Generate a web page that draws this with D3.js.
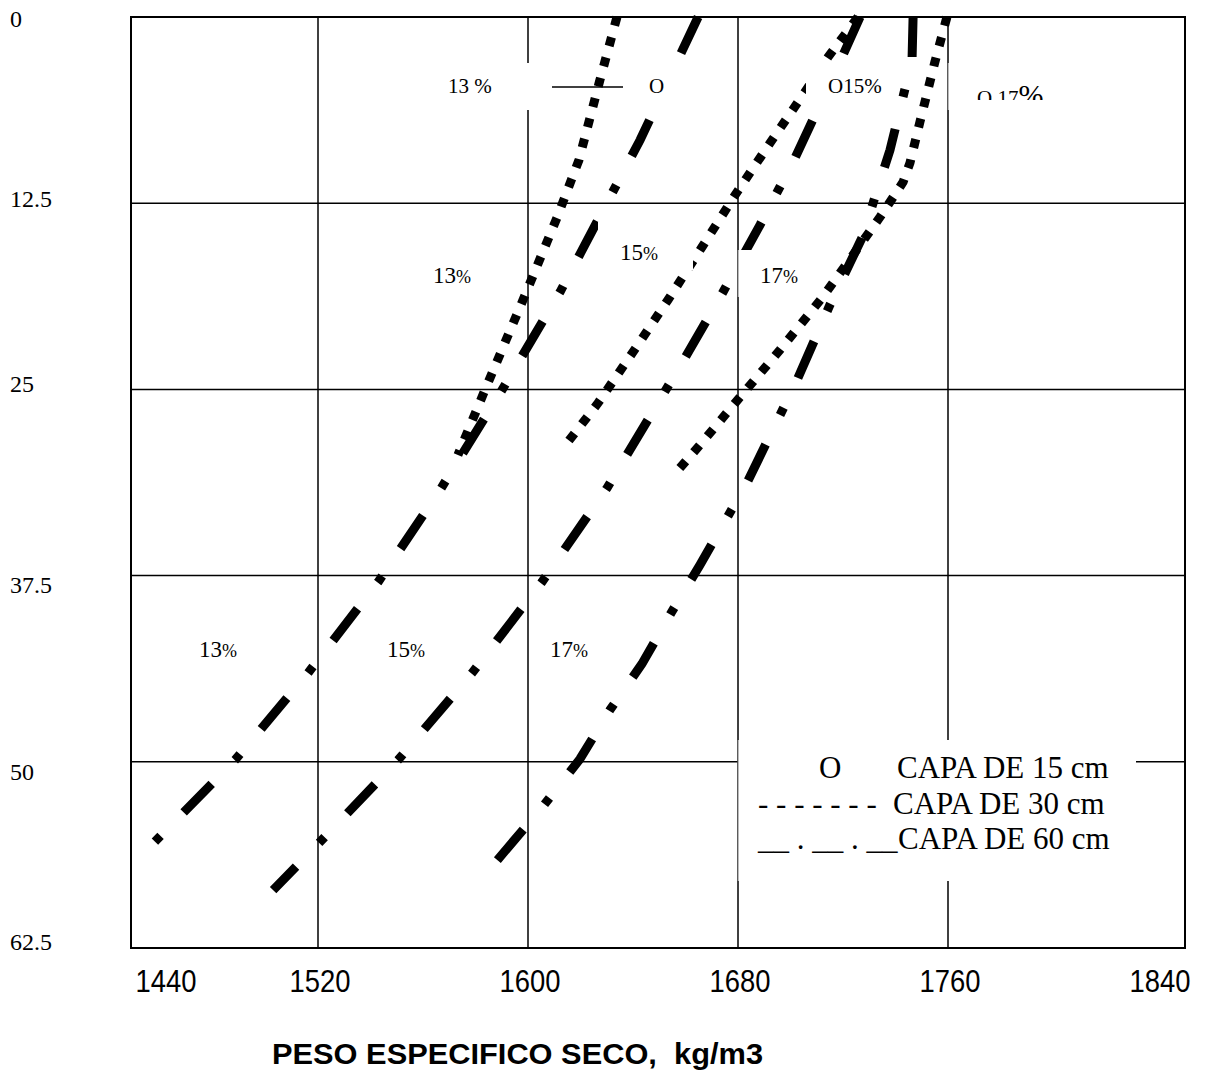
<!DOCTYPE html>
<html>
<head>
<meta charset="utf-8">
<script src="https://cdn.jsdelivr.net/npm/d3@7"></script>
<style>
  body { margin: 0; background: #fff; }
  svg { display: block; }
  .serif { font-family: "Liberation Serif", "Times New Roman", serif; fill: #000; }
  .sans { font-family: "Liberation Sans", Arial, sans-serif; fill: #000; }
</style>
</head>
<body>
<script>
// axis values
const xTicks = [1440, 1520, 1600, 1680, 1760, 1840];
const yTicks = [0, 12.5, 25, 37.5, 50, 62.5];
const moistures = ["13%", "15%", "17%"];

// CAPA DE 30 cm (dotted) -- [peso especifico, y]
const capa30_13 = [[1633.9, 0], [1627.4, 4.23], [1619.4, 9.6], [1611.0, 13.49], [1598.9, 18.66], [1583.6, 25.04], [1573.3, 29.4]];
const capa30_15 = [[1725.7, 0], [1714.3, 2.69], [1705.5, 5.03], [1692.2, 8.46], [1678.9, 11.95], [1666.3, 15.44], [1653.3, 19.0], [1640.0, 22.49], [1626.7, 25.91], [1615.2, 28.53]];
const capa30_17 = [[1759.6, 0], [1755.0, 3.02], [1749.3, 7.05], [1745.5, 9.8], [1742.9, 11.08], [1734.1, 13.43], [1725.7, 15.51], [1712.0, 18.86], [1696.0, 22.35], [1680.8, 25.51], [1665.5, 28.73], [1655.2, 30.81]];

// CAPA DE 60 cm (dash-dot)
const capa60_13 = [[1664.8, 0], [1642.7, 8.26], [1612.2, 18.46], [1590.1, 25.04], [1566.5, 31.75], [1542.9, 37.93], [1516.2, 44.04], [1488.4, 49.88], [1456.8, 55.55]];
const capa60_15 = [[1726.5, 0], [1720.0, 2.55], [1701.7, 9.47], [1688.4, 13.96], [1674.3, 18.46], [1659.8, 22.89], [1630.1, 31.62], [1605.3, 37.93], [1578.7, 44.04], [1550.5, 49.88], [1520.4, 55.45], [1502.9, 58.61]];
const capa60_17 = [[1746.7, 0], [1746.3, 2.89], [1737.9, 8.93], [1727.2, 14.84], [1715.0, 19.33], [1702.5, 24.37], [1683.4, 31.28], [1665.5, 36.79], [1654.5, 40.01], [1643.4, 43.43], [1631.2, 46.52], [1619.8, 49.81], [1606.1, 52.9], [1587.4, 56.79]];

const W = 1223, H = 1075;
const plotL = 131, plotR = 1185, plotT = 17, plotB = 948;

const svg = d3.select('body').append('svg')
    .attr('width', W)
    .attr('height', H);

const x = d3.scaleLinear().domain([1520, 1760]).range([318, 948]);
const y = d3.scaleLinear().domain([0, 62.5]).range([plotT, plotB]);

// grid (inner ticks only, the frame closes the outside)
const grid = svg.append('g').attr('stroke', '#000').attr('stroke-width', 1.5);
grid.selectAll('.vg')
    .data(xTicks.slice(1, -1))
    .enter().append('line')
    .attr('x1', d => x(d)).attr('x2', d => x(d))
    .attr('y1', plotT).attr('y2', plotB);
grid.selectAll('.hg')
    .data(yTicks.slice(1, -1))
    .enter().append('line')
    .attr('x1', plotL).attr('x2', plotR)
    .attr('y1', d => y(d)).attr('y2', d => y(d));
svg.append('rect')
    .attr('x', plotL).attr('y', plotT)
    .attr('width', plotR - plotL).attr('height', plotB - plotT)
    .attr('fill', 'none').attr('stroke', '#000').attr('stroke-width', 2);

// y labels
const yNudge = [10, 4, 3, 17, 18, 2];
svg.selectAll('.ylab')
    .data(yTicks)
    .enter().append('text')
    .attr('class', 'serif')
    .attr('x', 10)
    .attr('y', (d, i) => y(d) + yNudge[i])
    .attr('font-size', 24)
    .text(d => d);

// x labels
svg.selectAll('.xlab')
    .data(xTicks)
    .enter().append('text')
    .attr('class', 'sans')
    .attr('x', d => d === xTicks[0] ? x(d) + 58 : x(d) + 2)
    .attr('y', 992)
    .attr('text-anchor', 'middle')
    .attr('font-size', 32)
    .attr('textLength', 61)
    .attr('lengthAdjust', 'spacingAndGlyphs')
    .text(d => d);

svg.append('text')
    .attr('class', 'sans')
    .attr('x', 272).attr('y', 1064)
    .attr('font-size', 29).attr('font-weight', 'bold')
    .attr('textLength', 491).attr('lengthAdjust', 'spacingAndGlyphs')
    .style('white-space', 'pre')
    .text('PESO ESPECIFICO SECO,  kg/m3');

// curves
const line = d3.line().x(d => x(d[0])).y(d => y(d[1]));
const curves = [
    { pts: capa30_13, dash: '9,12' },
    { pts: capa30_15, dash: '9,12' },
    { pts: capa30_17, dash: '9,12' },
    { pts: capa60_13, dash: '40,33,8,33' },
    { pts: capa60_15, dash: '40,33,8,33' },
    { pts: capa60_17, dash: '40,33,8,33' }
];
svg.selectAll('.curve')
    .data(curves)
    .enter().append('path')
    .attr('d', d => line(d.pts))
    .attr('fill', 'none')
    .attr('stroke', '#000')
    .attr('stroke-width', 9)
    .attr('stroke-dasharray', d => d.dash);

// white text boxes sitting over the grid
const boxes = [
    [440, 63, 545, 110, false],
    [643, 68, 678, 102, false],
    [806, 63, 890, 110, false],
    [948, 63, 1060, 110, true],
    [598, 222, 693, 270, false],
    [738, 250, 810, 297, true],
    [529, 623, 600, 672, false],
    [738, 740, 1136, 881, true]
];
boxes.forEach(b => {
    svg.append('rect')
        .attr('x', b[0]).attr('y', b[1])
        .attr('width', b[2] - b[0]).attr('height', b[3] - b[1])
        .attr('fill', '#fff');
    if (b[4]) {
        svg.append('line')
            .attr('x1', b[0]).attr('x2', b[0])
            .attr('y1', b[1]).attr('y2', b[3])
            .attr('stroke', '#777').attr('stroke-width', 1);
    }
});

// moisture labels
function pctLabel(px, py, m, size, pctSize, gap) {
    const t = svg.append('text').attr('class', 'serif')
        .attr('x', px).attr('y', py).attr('font-size', size);
    t.append('tspan').text(m.replace('%', '') + (gap ? ' ' : ''));
    t.append('tspan').attr('font-size', pctSize).text('%');
    return t;
}
// row of the 15 cm layer
pctLabel(448, 93, moistures[0], 21, 21, true);
svg.append('line').attr('x1', 552).attr('x2', 623).attr('y1', 87).attr('y2', 87)
    .attr('stroke', '#000').attr('stroke-width', 1.5);
svg.append('text').attr('class', 'serif').attr('x', 649).attr('y', 93).attr('font-size', 21).text('O');
pctLabel(828, 93, 'O' + moistures[1], 21, 21, false);
svg.append('clipPath').attr('id', 'clip17').append('rect')
    .attr('x', 948).attr('y', 63).attr('width', 112).attr('height', 37);
pctLabel(977, 105, 'O ' + moistures[2], 21, 30, false).attr('clip-path', 'url(#clip17)');

// row of the 30 cm layer
pctLabel(433, 283, moistures[0], 23, 18, false);
pctLabel(620, 260, moistures[1], 23, 18, false);
pctLabel(760, 283, moistures[2], 23, 18, false);

// row of the 60 cm layer
pctLabel(199, 657, moistures[0], 23, 18, false);
pctLabel(387, 657, moistures[1], 23, 18, false);
pctLabel(550, 657, moistures[2], 23, 18, false);

// legend
const lg = svg.append('g').attr('class', 'serif').attr('font-size', 31);
lg.append('text').attr('x', 819).attr('y', 778).text('O');
lg.append('text').attr('x', 897).attr('y', 778).text('CAPA DE 15 cm');
lg.append('text').attr('x', 758).attr('y', 814).text('- - - - - - -');
lg.append('text').attr('x', 893).attr('y', 814).text('CAPA DE 30 cm');
lg.append('text').attr('x', 758).attr('y', 849).text('__ . __ . __');
lg.append('text').attr('x', 898).attr('y', 849).text('CAPA DE 60 cm');
</script>
</body>
</html>
